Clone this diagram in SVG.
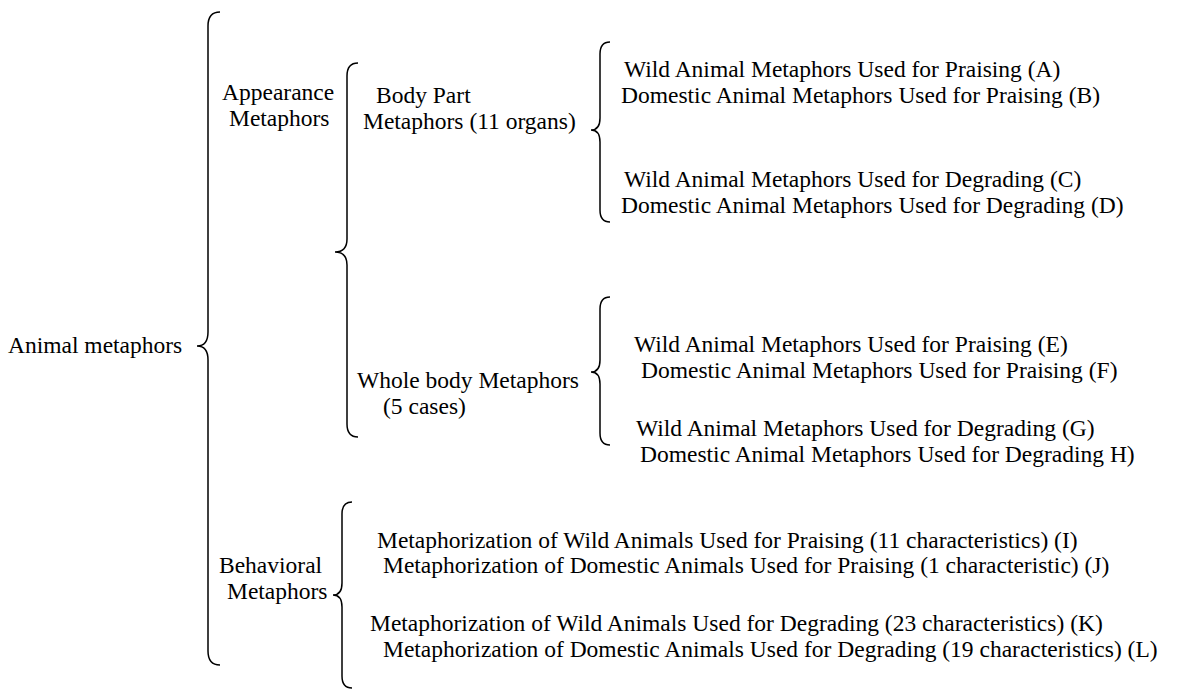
<svg xmlns="http://www.w3.org/2000/svg" width="1181" height="690" viewBox="0 0 1181 690">
<style>
text{font-family:"Liberation Serif","Times New Roman",serif;font-size:23.5px;fill:#000}
.br{fill:none;stroke:#000;stroke-width:1.5}
</style>
<rect width="1181" height="690" fill="#fff"/>
<g id="connectors">
<path class="br" d="M220 12 Q208 12 208 26 L208 332 Q208 346 197 346 Q208 346 208 360 L208 651 Q208 665 220 665"/>
<path class="br" d="M358 63 Q347 63 347 76 L347 239 Q347 252 335 252 Q347 252 347 265 L347 424 Q347 437 358 437"/>
<path class="br" d="M610 42 Q600 42 600 54 L600 118 Q600 130 591 130 Q600 130 600 142 L600 210 Q600 222 610 222"/>
<path class="br" d="M610 297 Q600 297 600 309 L600 360 Q600 372 591 372 Q600 372 600 384 L600 433 Q600 445 610 445"/>
<path class="br" d="M352 502 Q342 502 342 514 L342 583 Q342 595 333 595 Q342 595 342 607 L342 676 Q342 688 352 688"/>
</g>
<g id="root"><text x="8" y="353">Animal metaphors</text></g>
<g id="appearance"><text x="222" y="100">Appearance</text><text x="229" y="126">Metaphors</text></g>
<g id="bodypart"><text x="376" y="103">Body Part</text><text x="363" y="129">Metaphors (11 organs)</text></g>
<g id="A"><text x="624" y="77">Wild Animal Metaphors Used for Praising (A)</text></g>
<g id="B"><text x="621" y="103">Domestic Animal Metaphors Used for Praising (B)</text></g>
<g id="C"><text x="624" y="187">Wild Animal Metaphors Used for Degrading (C)</text></g>
<g id="D"><text x="621" y="213">Domestic Animal Metaphors Used for Degrading (D)</text></g>
<g id="wholebody"><text x="357" y="388">Whole body Metaphors</text><text x="383" y="414">(5 cases)</text></g>
<g id="E"><text x="634" y="352">Wild Animal Metaphors Used for Praising (E)</text></g>
<g id="F"><text x="641" y="378">Domestic Animal Metaphors Used for Praising (F)</text></g>
<g id="G"><text x="636" y="436">Wild Animal Metaphors Used for Degrading (G)</text></g>
<g id="H"><text x="640" y="462">Domestic Animal Metaphors Used for Degrading H)</text></g>
<g id="behavioral"><text x="219" y="573">Behavioral</text><text x="227" y="599">Metaphors</text></g>
<g id="I"><text x="377" y="548">Metaphorization of Wild Animals Used for Praising (11 characteristics) (I)</text></g>
<g id="J"><text x="383" y="573">Metaphorization of Domestic Animals Used for Praising (1 characteristic) (J)</text></g>
<g id="K"><text x="370" y="631">Metaphorization of Wild Animals Used for Degrading (23 characteristics) (K)</text></g>
<g id="L"><text x="383" y="657">Metaphorization of Domestic Animals Used for Degrading (19 characteristics) (L)</text></g>
</svg>
